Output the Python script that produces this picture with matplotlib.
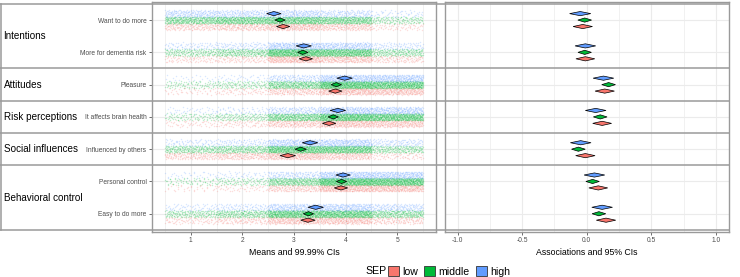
import numpy as np
import matplotlib
matplotlib.use('Agg')
import matplotlib.pyplot as plt
from matplotlib.patches import Polygon, Patch
from matplotlib.lines import Line2D
import matplotlib.transforms as mtransforms

plt.rcParams['font.family'] = ['Liberation Sans', 'DejaVu Sans']

# ---------------- data ----------------
constructs = ['Intentions', 'Attitudes', 'Risk perceptions', 'Social influences', 'Behavioral control']
construct_sizes = [2, 1, 1, 1, 2]
items = ['Want to do more', 'More for dementia risk', 'Pleasure', 'It affects brain health',
         'Influenced by others', 'Personal control', 'Easy to do more']
groups = ['low', 'middle', 'high']
group_colors = ['#F8766D', '#00BA38', '#619CFF']
group_n = [900, 1700, 800]
levels = [1, 2, 3, 4, 5]

# means and 99.99% CI half widths (left panel)
means_low = [2.79, 3.23, 3.80, 3.68, 2.88, 3.91, 3.27]
means_middle = [2.73, 3.17, 3.82, 3.76, 3.13, 3.92, 3.28]
means_high = [2.61, 3.19, 3.98, 3.85, 3.31, 3.95, 3.42]
ci_low = [0.13, 0.13, 0.13, 0.13, 0.15, 0.13, 0.14]
ci_middle = [0.10, 0.10, 0.10, 0.10, 0.11, 0.10, 0.10]
ci_high = [0.14, 0.15, 0.15, 0.15, 0.15, 0.14, 0.15]

# associations and 95% CI half widths (right panel)
assoc_low = [-0.03, -0.01, 0.14, 0.12, -0.01, 0.09, 0.15]
assoc_middle = [-0.015, -0.015, 0.17, 0.105, -0.064, 0.046, 0.095]
assoc_high = [-0.05, -0.01, 0.13, 0.07, -0.046, 0.06, 0.12]
aci_low = [0.075, 0.073, 0.075, 0.073, 0.075, 0.073, 0.075]
aci_middle = [0.053, 0.052, 0.053, 0.053, 0.053, 0.052, 0.053]
aci_high = [0.082, 0.08, 0.08, 0.08, 0.08, 0.08, 0.08]

# response distributions (proportion per answer level 1..5)
pct_low = [[0.18, 0.22, 0.30, 0.22, 0.08],
           [0.10, 0.12, 0.36, 0.28, 0.14],
           [0.05, 0.08, 0.20, 0.35, 0.32],
           [0.06, 0.09, 0.23, 0.33, 0.29],
           [0.17, 0.20, 0.31, 0.23, 0.09],
           [0.04, 0.06, 0.19, 0.37, 0.34],
           [0.10, 0.14, 0.30, 0.30, 0.16]]
pct_middle = [[0.20, 0.24, 0.26, 0.22, 0.08],
              [0.10, 0.14, 0.34, 0.30, 0.12],
              [0.05, 0.07, 0.20, 0.36, 0.32],
              [0.05, 0.08, 0.22, 0.34, 0.31],
              [0.13, 0.15, 0.31, 0.29, 0.12],
              [0.04, 0.06, 0.19, 0.37, 0.34],
              [0.10, 0.14, 0.30, 0.30, 0.16]]
pct_high = [[0.25, 0.22, 0.27, 0.19, 0.07],
            [0.10, 0.13, 0.35, 0.30, 0.12],
            [0.03, 0.05, 0.18, 0.37, 0.37],
            [0.05, 0.07, 0.20, 0.35, 0.33],
            [0.10, 0.12, 0.30, 0.33, 0.15],
            [0.04, 0.06, 0.18, 0.37, 0.35],
            [0.08, 0.12, 0.28, 0.32, 0.20]]

left_ticks = [1, 2, 3, 4, 5]
right_ticks = [-1.0, -0.5, 0.0, 0.5, 1.0]
right_ticklabels = ['-1.0', '-0.5', '0.0', '0.5', '1.0']

means = [means_low, means_middle, means_high]
cis = [ci_low, ci_middle, ci_high]
assocs = [assoc_low, assoc_middle, assoc_high]
acis = [aci_low, aci_middle, aci_high]
pcts = [pct_low, pct_middle, pct_high]


def halton(idx, base):
    """Deterministic low-discrepancy positions used for jitter placement."""
    idx = np.asarray(idx, dtype=np.int64)
    out = np.zeros(idx.shape, dtype=float)
    f = 1.0
    i = idx.copy()
    while np.any(i > 0):
        f /= base
        out += f * (i % base)
        i //= base
    return out


# ---------------- layout ----------------
W, H = 740, 277
fig = plt.figure(figsize=(W / 100, H / 100), dpi=100)
fig.patch.set_facecolor('white')

ax_top = 1 - 2 / H
ax_bot = 1 - 231.5 / H
axL = fig.add_axes([152 / W, ax_bot, (436 - 152) / W, ax_top - ax_bot])
axR = fig.add_axes([444.6 / W, ax_bot, (728.7 - 444.6) / W, ax_top - ax_bot])

row_offset = {0: 0.2, 1: 0.0, 2: -0.2}   # low below, high above (y inverted)
grid_col = '#EBEBEB'
border_col = '#9A9A9A'
text_col = '#4D4D4D'

for ax in (axL, axR):
    ax.set_ylim(7.55, 0.44)
    ax.set_facecolor('white')
    for s in ax.spines.values():
        s.set_color(border_col)
        s.set_linewidth(1.0)
    ax.set_axisbelow(True)
    ax.grid(True, which='major', color=grid_col, linewidth=0.8)
    ax.grid(True, which='minor', color=grid_col, linewidth=0.5)
    ax.tick_params(axis='both', which='major', length=2, width=0.6, color='#555555',
                   labelsize=4.8, labelcolor=text_col, pad=2)
    ax.tick_params(axis='both', which='minor', length=0)

ypos = np.arange(1, len(items) + 1)

# left panel: jittered raw data + mean diamonds
axL.set_xlim(0.25, 5.75)
axL.set_xticks(left_ticks)
axL.set_xticks([0.5, 1.5, 2.5, 3.5, 4.5, 5.5], minor=True)
axL.set_yticks(ypos)
axL.set_yticklabels(items)
axL.set_yticks([], minor=True)

start = 1
for gi in range(3):
    for ii in range(len(items)):
        for li, lev in enumerate(levels):
            n = int(round(pcts[gi][ii][li] * group_n[gi]))
            idx = np.arange(start, start + n)
            start += n + 7919
            u = halton(idx, 2)
            v = halton(idx, 3)
            xs = lev + (u - 0.5) * 1.0
            ys = ypos[ii] + row_offset[gi] + (v - 0.5) * 0.22
            axL.scatter(xs, ys, s=1.1, color=group_colors[gi], alpha=0.24,
                        linewidths=0, zorder=2, rasterized=True)

dh = 0.065
for gi in range(3):
    for ii in range(len(items)):
        y = ypos[ii] + row_offset[gi]
        m, c = means[gi][ii], cis[gi][ii]
        axL.add_patch(Polygon([[m - c, y], [m, y - dh], [m + c, y], [m, y + dh]],
                              closed=True, facecolor=group_colors[gi], edgecolor='black',
                              linewidth=0.5, zorder=4))
        m, c = assocs[gi][ii], acis[gi][ii]
        axR.add_patch(Polygon([[m - c, y], [m, y - dh], [m + c, y], [m, y + dh]],
                              closed=True, facecolor=group_colors[gi], edgecolor='black',
                              linewidth=0.5, zorder=4))

axL.set_xlabel('Means and 99.99% CIs', fontsize=6.3, labelpad=2.5, color='black')

axR.set_xlim(-1.1, 1.1)
axR.set_xticks(right_ticks)
axR.set_xticklabels(right_ticklabels)
axR.set_xticks([-0.75, -0.25, 0.25, 0.75], minor=True)
axR.set_yticks(ypos)
axR.set_yticklabels([])
axR.tick_params(axis='y', which='both', length=0)
axR.set_xlabel('Associations and 95% CIs', fontsize=6.3, labelpad=2.5, color='black')

# construct separators across the whole figure
bounds = np.concatenate([[0.5], 0.5 + np.cumsum(construct_sizes)])
trans = mtransforms.blended_transform_factory(fig.transFigure, axL.transData)
for b in bounds:
    fig.add_artist(Line2D([0, 728.7 / W], [b, b], transform=trans, color=border_col,
                          linewidth=1.1, zorder=5))
fig.add_artist(Line2D([0.6 / W, 0.6 / W], [bounds[0], bounds[-1]], transform=trans,
                      color=border_col, linewidth=1.1, zorder=5))

# construct labels
for k, name in enumerate(constructs):
    yc = (bounds[k] + bounds[k + 1]) / 2
    fig.text(3.5 / W, yc, name, transform=trans, fontsize=7.1, ha='left', va='center',
             color='black')

# legend
fig.text(365 / W, 1 - 271.4 / H, 'SEP', fontsize=7.6, ha='left', va='center')
handles = [Patch(facecolor=group_colors[i], edgecolor='#333333', linewidth=0.6, label=groups[i])
           for i in range(3)]
fig.legend(handles=handles, loc='center left', bbox_to_anchor=(388 / W, 1 - 271.4 / H),
           ncol=3, frameon=False, fontsize=7.6, handlelength=1.0, handleheight=1.0,
           handletextpad=0.35, columnspacing=0.6, borderpad=0, borderaxespad=0)

fig.savefig('out.png', dpi=100, facecolor='white')
